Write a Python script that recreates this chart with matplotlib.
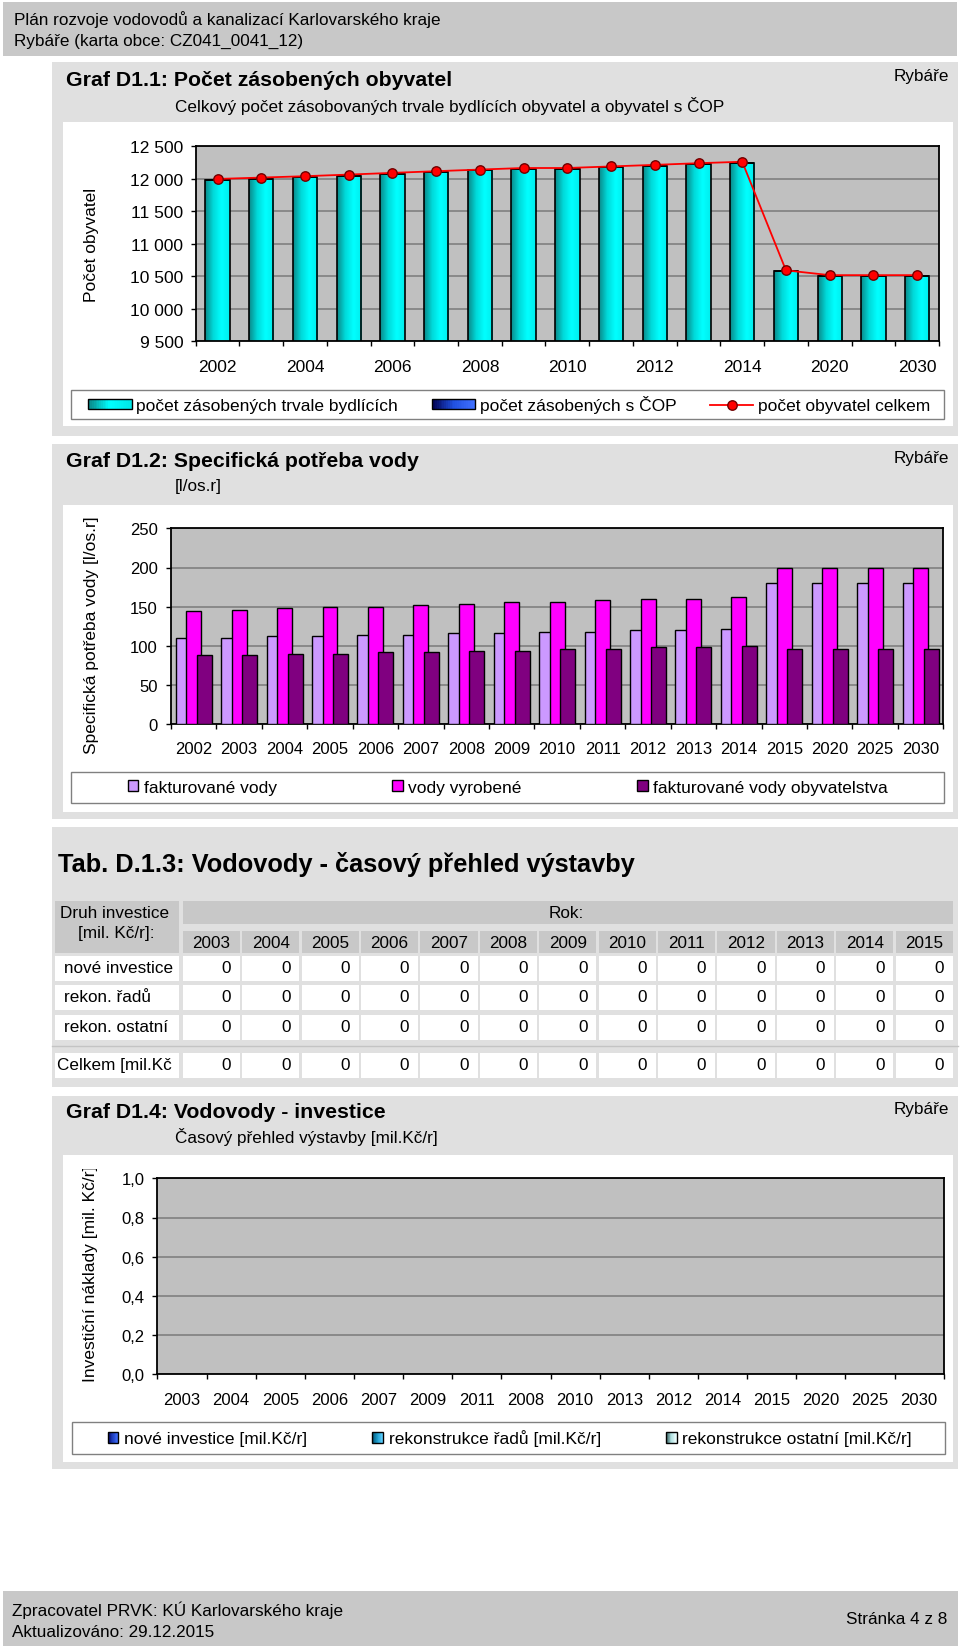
import numpy as np
import matplotlib
matplotlib.use('Agg')
import matplotlib.pyplot as plt
from matplotlib.patches import Rectangle
from matplotlib.colors import LinearSegmentedColormap
from matplotlib.legend_handler import HandlerBase
from matplotlib.ticker import FuncFormatter, MultipleLocator
from matplotlib.transforms import Bbox

plt.rcParams['font.family'] = ['Liberation Sans', 'DejaVu Sans']

W, H = 960, 1649

# Graf D1.1 - pocet zasobenych obyvatel
roky1 = ['2002', '2003', '2004', '2005', '2006', '2007', '2008', '2009', '2010',
         '2011', '2012', '2013', '2014', '2015', '2020', '2025', '2030']
zasobeni_trvale = [11980, 12000, 12020, 12045, 12072, 12098, 12124, 12148, 12148,
                   12170, 12191, 12216, 12246, 10578, 10505, 10505, 10505]
zasobeni_cop = [0, 0, 0, 0, 0, 0, 0, 0, 0, 0, 0, 0, 0, 0, 0, 0, 0]
obyvatel_celkem = [11994, 12015, 12036, 12061, 12087, 12113, 12138, 12162, 12162,
                   12186, 12210, 12236, 12258, 10590, 10516, 10516, 10516]

# Graf D1.2 - specificka potreba vody [l/os.r]
roky2 = ['2002', '2003', '2004', '2005', '2006', '2007', '2008', '2009', '2010',
         '2011', '2012', '2013', '2014', '2015', '2020', '2025', '2030']
fakturovane = [110, 110, 112, 112, 114, 114, 116, 116, 118, 118, 120, 120, 122, 180, 180, 180, 180]
vyrobene = [144, 146, 148, 150, 150, 152, 154, 156, 156, 158, 160, 160, 162, 200, 200, 200, 200]
fakt_obyvatelstvo = [88, 88, 90, 90, 92, 92, 94, 94, 96, 96, 98, 98, 100, 96, 96, 96, 96]

# Tab. D.1.3 - casovy prehled vystavby
roky_tab = ['2003', '2004', '2005', '2006', '2007', '2008', '2009', '2010', '2011',
            '2012', '2013', '2014', '2015']
tab_nove = [0, 0, 0, 0, 0, 0, 0, 0, 0, 0, 0, 0, 0]
tab_radu = [0, 0, 0, 0, 0, 0, 0, 0, 0, 0, 0, 0, 0]
tab_ostatni = [0, 0, 0, 0, 0, 0, 0, 0, 0, 0, 0, 0, 0]
tab_celkem = [0, 0, 0, 0, 0, 0, 0, 0, 0, 0, 0, 0, 0]

# Graf D1.4 - investice [mil.Kc/r]
roky4 = ['2003', '2004', '2005', '2006', '2007', '2009', '2011', '2008', '2010',
         '2013', '2012', '2014', '2015', '2020', '2025', '2030']
inv_nove = [0, 0, 0, 0, 0, 0, 0, 0, 0, 0, 0, 0, 0, 0, 0, 0]
inv_radu = [0, 0, 0, 0, 0, 0, 0, 0, 0, 0, 0, 0, 0, 0, 0, 0]
inv_ostatni = [0, 0, 0, 0, 0, 0, 0, 0, 0, 0, 0, 0, 0, 0, 0, 0]

FS = 12.3
FS_CH = 12.5


class GradHandler(HandlerBase):
    def __init__(self, colors):
        super().__init__()
        self.cmap = LinearSegmentedColormap.from_list('g', colors)

    def create_artists(self, legend, orig_handle, xdescent, ydescent, width, height, fontsize, trans):
        arts = []
        n = 24
        for i in range(n):
            arts.append(Rectangle((-xdescent + width * i / n, -ydescent), width / n + 0.2, height,
                                  facecolor=self.cmap(i / (n - 1)), edgecolor='none', transform=trans))
        arts.append(Rectangle((-xdescent, -ydescent), width, height, facecolor='none',
                              edgecolor='black', linewidth=1, transform=trans))
        return arts


def pos(x0, y0, x1, y1):
    return [x0 / W, 1 - y1 / H, (x1 - x0) / W, (y1 - y0) / H]


fig = plt.figure(figsize=(W / 100, H / 100), dpi=100)
bg = fig.add_axes([0, 0, 1, 1])
bg.set_xlim(0, W)
bg.set_ylim(H, 0)
bg.axis('off')


def rect(x0, y0, x1, y1, fc, ec='none', lw=0):
    bg.add_patch(Rectangle((x0, y0), x1 - x0, y1 - y0, facecolor=fc, edgecolor=ec, linewidth=lw))


def txt(x, y, s, size=FS, **kw):
    return bg.text(x, y, s, fontsize=size, va=kw.pop('va', 'center'), **kw)


# hlavicka
rect(3, 3, 957, 57, '#c8c8c8')
txt(14, 19.5, 'Plán rozvoje vodovodů a kanalizací Karlovarského kraje')
txt(14, 41.7, 'Rybáře (karta obce: CZ041_0041_12)')

# boxy
rect(51.7, 63.3, 957.5, 436.7, '#e0e0e0')
rect(63.3, 123.3, 952.7, 427, 'white')
txt(65.7, 80, 'Graf D1.1: Počet zásobených obyvatel', size=15.3, weight='bold')
txt(175, 106, 'Celkový počet zásobovaných trvale bydlících obyvatel a obyvatel s ČOP')
txt(949.3, 76.7, 'Rybáře', ha='right')
rect(71, 390.7, 944.3, 420, 'white', '#808080', 1)
txt(91.7, 245, 'Počet obyvatel', size=FS_CH, rotation=90, ha='center')

rect(51.7, 445, 957.5, 820, '#e0e0e0')
rect(63.3, 506, 952.7, 812.7, 'white')
txt(66, 461.7, 'Graf D1.2: Specifická potřeba vody', size=15.3, weight='bold')
txt(175, 487, '[l/os.r]')
txt(949, 458, 'Rybáře', ha='right')
rect(71, 772.7, 944, 804.3, 'white', '#808080', 1)
txt(91.7, 635, 'Specifická potřeba vody [l/os.r]', size=FS_CH, rotation=90, ha='center')

rect(51.7, 828.3, 957.5, 1088.3, '#e0e0e0')
txt(58.3, 864.3, 'Tab. D.1.3: Vodovody - časový přehled výstavby', size=18.3, weight='bold')

rect(51.7, 1096.7, 957.5, 1470, '#e0e0e0')
rect(63.3, 1156, 952.7, 1463.3, 'white')
txt(66.4, 1112.3, 'Graf D1.4: Vodovody - investice', size=15.3, weight='bold')
txt(175, 1137.3, 'Časový přehled výstavby [mil.Kč/r]')
txt(949.6, 1109.3, 'Rybáře', ha='right')
rect(72.3, 1422.7, 945, 1455, 'white', '#808080', 1)
yl4 = txt(90, 1382, 'Investiční náklady [mil. Kč/r]', size=FS_CH, rotation=90, ha='center', va='bottom')
yl4.set_clip_box(Bbox.from_extents(0, 0, W, H - 1170))
yl4.set_clip_on(True)

# paticka
rect(3, 1592.3, 958, 1646.7, '#c8c8c8')
txt(12.2, 1610.7, 'Zpracovatel PRVK: KÚ Karlovarského kraje')
txt(12.2, 1632.7, 'Aktualizováno: 29.12.2015')
txt(947.3, 1620, 'Stránka 4 z 8', ha='right')

# tabulka
rect(55, 901.7, 179, 954.3, '#c8c8c8')
txt(115, 913.3, 'Druh investice', ha='center')
txt(116, 933.3, '[mil. Kč/r]:', ha='center')
rect(182.7, 901.7, 953, 925, '#c8c8c8')
txt(566, 913.3, 'Rok:', ha='center')
col_x0, col_dx, col_w = 182.7, 59.4, 57.3
for i, rok in enumerate(roky_tab):
    cx = col_x0 + i * col_dx
    rect(cx, 932.3, cx + col_w, 954.3, '#c8c8c8')
    txt(cx + col_w / 2, 943.3, rok, ha='center')

radky = [('nové investice', tab_nove, 956.7, 64.3),
         ('rekon. řadů', tab_radu, 986, 64.3),
         ('rekon. ostatní', tab_ostatni, 1016, 64.3),
         ('Celkem [mil.Kč', tab_celkem, 1054, 57.3)]
for label, vals, y0, lx in radky:
    rect(55, y0, 179, y0 + 24.8, 'white')
    txt(lx, y0 + 12, label)
    for i, v in enumerate(vals):
        cx = col_x0 + i * col_dx
        rect(cx, y0, cx + col_w, y0 + 24.8, 'white')
        txt(cx + col_w - 9, y0 + 12, str(v), ha='right')
bg.plot([51.7, 957.5], [1046.7, 1046.7], color='#c4c4c4', lw=1)


def style_axes(ax, n, major_pad, label_pad):
    ax.set_facecolor('#c0c0c0')
    ax.set_xlim(-0.5, n - 0.5)
    ax.grid(axis='y', color='#808080', lw=1.2)
    ax.set_axisbelow(True)
    ax.set_xticks(np.arange(-0.5, n, 1))
    ax.tick_params(axis='x', which='major', length=3.6, width=1, labelbottom=False, direction='out')
    ax.tick_params(axis='x', which='minor', length=0, pad=label_pad, labelsize=FS_CH if n == 17 and label_pad > 12 else 12)
    ax.tick_params(axis='y', length=3.6, width=1, pad=major_pad, labelsize=FS_CH if label_pad > 12 else 12)
    for s in ax.spines.values():
        s.set_linewidth(1.3)
        s.set_color('black')


# Graf D1.1
ax1 = fig.add_axes(pos(195.7, 147, 939, 342.3))
x1 = np.arange(len(roky1))
bary = ax1.bar(x1, zasobeni_trvale, width=0.556, facecolor='none', edgecolor='black', linewidth=1.2, zorder=3)
cmap1 = LinearSegmentedColormap.from_list('tyrkys', ['#0a8a8a', '#00dada', '#00ffff', '#00eeee'])
grad = np.linspace(0, 1, 64).reshape(1, -1)
for p in bary.patches:
    im = ax1.imshow(grad, cmap=cmap1, aspect='auto', zorder=2,
                    extent=(p.get_x(), p.get_x() + p.get_width(), 9500, p.get_height()))
    im.set_clip_path(p)
bary_cop = ax1.bar(x1, zasobeni_cop, bottom=zasobeni_trvale, width=0.556, facecolor='#1a3caa',
                   edgecolor='black', linewidth=1.2, zorder=3)
line1, = ax1.plot(x1, obyvatel_celkem, color='#ff0000', lw=1.3, marker='o', ms=6.8,
                  mfc='#ff0000', mec='#700000', mew=1, zorder=5, clip_on=False)
ax1.set_ylim(9500, 12500)
ax1.yaxis.set_major_locator(MultipleLocator(500))
ax1.yaxis.set_major_formatter(FuncFormatter(lambda v, _: f'{int(v):,}'.replace(',', ' ')))
style_axes(ax1, len(roky1), 5.4, 12.4)
ax1.set_xticks(x1[::2], minor=True)
ax1.set_xticklabels(roky1[::2], minor=True)
ax1.set_xlim(-0.5, len(roky1) - 0.5)

fig.legend([bary, bary_cop, line1],
           ['počet zásobených trvale bydlících', 'počet zásobených s ČOP', 'počet obyvatel celkem'],
           handler_map={bary: GradHandler(['#0a8a8a', '#00ffff', '#00e8e8']),
                        bary_cop: GradHandler(['#000050', '#2050e0', '#4070ff'])},
           loc='center', bbox_to_anchor=(88.3 / W, 1 - 405.3 / H, (930 - 88.3) / W, 0),
           mode='expand', ncol=3, frameon=False, borderpad=0, borderaxespad=0,
           handlelength=2.5, handleheight=0.52, handletextpad=0.26, fontsize=FS_CH)

# Graf D1.2
ax2 = fig.add_axes(pos(171, 529.3, 943.3, 725.3))
x2 = np.arange(len(roky2))
bw, off = 0.33, 0.231
b21 = ax2.bar(x2 - off, fakturovane, width=bw, color='#cc99ff', edgecolor='black', linewidth=1, zorder=3)
b22 = ax2.bar(x2, vyrobene, width=bw, color='#ff00ff', edgecolor='black', linewidth=1, zorder=3)
b23 = ax2.bar(x2 + off, fakt_obyvatelstvo, width=bw, color='#800080', edgecolor='black', linewidth=1, zorder=3)
ax2.set_ylim(0, 250)
ax2.yaxis.set_major_locator(MultipleLocator(50))
style_axes(ax2, len(roky2), 5.8, 11.7)
ax2.set_xticks(x2, minor=True)
ax2.set_xticklabels(roky2, minor=True)
ax2.tick_params(axis='both', which='both', labelsize=12)
ax2.set_xlim(-0.5, len(roky2) - 0.5)

fig.legend([b21, b22, b23], ['fakturované vody', 'vody vyrobené', 'fakturované vody obyvatelstva'],
           loc='center', bbox_to_anchor=(127.7 / W, 1 - 788.5 / H, (888 - 127.7) / W, 0),
           mode='expand', ncol=3, frameon=False, borderpad=0, borderaxespad=0,
           handlelength=0.61, handleheight=0.61, handletextpad=0.33, fontsize=FS_CH)

# Graf D1.4
ax4 = fig.add_axes(pos(157.4, 1179.3, 943.7, 1375.3))
x4 = np.arange(len(roky4))
b41 = ax4.bar(x4, inv_nove, width=0.6, color='#2040a0', edgecolor='black', linewidth=1, zorder=3)
b42 = ax4.bar(x4, inv_radu, bottom=inv_nove, width=0.6, color='#20a0d0', edgecolor='black', linewidth=1, zorder=3)
b43 = ax4.bar(x4, inv_ostatni, bottom=np.add(inv_nove, inv_radu), width=0.6, color='#c8e8e8',
              edgecolor='black', linewidth=1, zorder=3)
for b in (b41, b42, b43):
    for p in b.patches:
        p.set_visible(p.get_height() > 0)
ax4.set_ylim(0, 1)
ax4.yaxis.set_major_locator(MultipleLocator(0.2))
ax4.yaxis.set_major_formatter(FuncFormatter(lambda v, _: f'{v:.1f}'.replace('.', ',')))
style_axes(ax4, len(roky4), 5.7, 12.4)
ax4.set_xticks(x4, minor=True)
ax4.set_xticklabels(roky4, minor=True)
ax4.tick_params(axis='both', which='both', labelsize=12)
ax4.set_xlim(-0.5, len(roky4) - 0.5)

fig.legend([b41, b42, b43],
           ['nové investice [mil.Kč/r]', 'rekonstrukce řadů [mil.Kč/r]', 'rekonstrukce ostatní [mil.Kč/r]'],
           handler_map={b41: GradHandler(['#000060', '#2040c0', '#4070ff']),
                        b42: GradHandler(['#005070', '#20a0d0', '#60d0ff']),
                        b43: GradHandler(['#305858', '#b0e0e0', '#f0ffff'])},
           loc='center', bbox_to_anchor=(107.5 / W, 1 - 1439 / H, (912 - 107.5) / W, 0),
           mode='expand', ncol=3, frameon=False, borderpad=0, borderaxespad=0,
           handlelength=0.61, handleheight=0.61, handletextpad=0.33, fontsize=FS_CH)

fig.savefig('out.png', dpi=100)
